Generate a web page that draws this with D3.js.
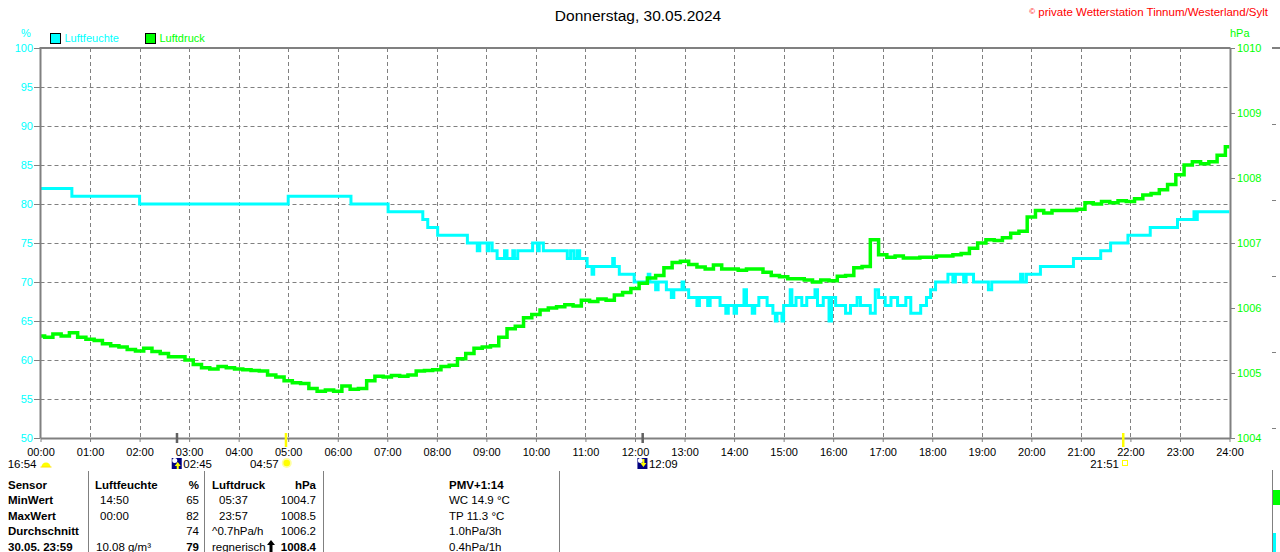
<!DOCTYPE html>
<html lang="de">
<head>
<meta charset="UTF-8">
<title>Luftfeuchte / Luftdruck 30.05.2024</title>
<script src="https://d3js.org/d3.v7.min.js"></script>
<style>
  body { margin: 0; background: #fff; }
  svg { display: block; font-family: "Liberation Sans", Arial, sans-serif; }
</style>
</head>
<body>
<div id="chart"></div>
<script>
// ---- data ----
const title = "Donnerstag, 30.05.2024";
const credit = "private Wetterstation Tinnum/Westerland/Sylt";
const hourLabels = ["00:00","01:00","02:00","03:00","04:00","05:00","06:00","07:00","08:00",
  "09:00","10:00","11:00","12:00","13:00","14:00","15:00","16:00","17:00","18:00","19:00",
  "20:00","21:00","22:00","23:00","24:00"];
const humidityTicks = [50, 55, 60, 65, 70, 75, 80, 85, 90, 95, 100];
const pressureTicks = [1004, 1005, 1006, 1007, 1008, 1009, 1010];

// Luftfeuchte: change points (time, %), drawn as steps
const humidity = [
  ["00:00",82],["00:38",81],["02:00",80],["05:00",81],["06:16",80],["07:01",79],["07:43",78],
  ["07:49",77],["08:01",76],["08:37",75],["08:49",74],["08:52",75],["09:01",74],["09:03",75],
  ["09:07",74],["09:13",73],["09:22",74],["09:25",73],["09:32",74],["09:34",73],["09:38",74],
  ["09:56",75],["10:02",74],["10:04",75],["10:09",74],["10:38",73],["10:42",74],["10:46",73],
  ["10:50",74],["10:53",73],["11:02",72],["11:08",71],["11:10",72],["11:33",73],["11:35",72],
  ["11:41",71],["11:59",70],["12:16",71],["12:18",70],["12:25",69],["12:28",70],["12:38",69],
  ["12:44",68],["12:47",69],["12:57",70],["12:59",69],["13:05",68],["13:15",67],["13:18",68],
  ["13:28",67],["13:31",68],["13:43",67],["13:50",66],["13:53",67],["14:00",66],["14:03",67],
  ["14:12",69],["14:15",67],["14:22",66],["14:25",67],["14:30",68],["14:40",67],["14:47",66],
  ["14:50",65],["14:52",66],["14:58",65],["15:00",67],["15:08",69],["15:10",67],["15:15",68],
  ["15:22",67],["15:28",68],["15:38",69],["15:41",67],["15:48",68],["15:55",65],["15:58",68],
  ["16:03",67],["16:15",66],["16:21",67],["16:29",68],["16:33",67],["16:45",66],["16:51",69],
  ["16:55",68],["17:03",67],["17:10",68],["17:18",67],["17:28",68],["17:34",66],["17:46",67],
  ["17:53",68],["17:58",69],["18:04",70],["18:19",71],["18:25",70],["18:28",71],["18:38",70],
  ["18:41",71],["18:50",70],["19:08",69],["19:12",70],["19:47",71],["19:50",70],["19:54",71],
  ["20:11",72],["20:51",73],["21:24",74],["21:36",75],["21:57",76],["22:24",77],["22:57",78],
  ["23:17",79],["23:19",78],["23:21",79],["24:00",79]
];

// Luftdruck in hPa, one reading every 10 minutes from 00:00 to 24:00
const pressureStepMin = 10;
const pressure = [
  1005.57, 1005.55, 1005.60, 1005.57, 1005.62, 1005.55,
  1005.52, 1005.50, 1005.45, 1005.42, 1005.40, 1005.36,
  1005.34, 1005.38, 1005.33, 1005.30, 1005.25, 1005.25,
  1005.20, 1005.13, 1005.08, 1005.06, 1005.10, 1005.08,
  1005.06, 1005.05, 1005.04, 1005.03, 1004.97, 1004.94,
  1004.88, 1004.85, 1004.84, 1004.76, 1004.72, 1004.74,
  1004.72, 1004.80, 1004.75, 1004.76, 1004.88, 1004.95,
  1004.94, 1004.96, 1004.95, 1004.97, 1005.03, 1005.04,
  1005.05, 1005.10, 1005.12, 1005.22, 1005.30, 1005.38,
  1005.40, 1005.42, 1005.55, 1005.68, 1005.72, 1005.85,
  1005.90, 1005.97, 1006.00, 1006.02, 1006.05, 1006.03,
  1006.12, 1006.10, 1006.14, 1006.12, 1006.20, 1006.24,
  1006.30, 1006.38, 1006.46, 1006.50, 1006.62, 1006.70,
  1006.72, 1006.67, 1006.63, 1006.60, 1006.66, 1006.60,
  1006.60, 1006.58, 1006.60, 1006.60, 1006.55, 1006.50,
  1006.48, 1006.45, 1006.45, 1006.43, 1006.40, 1006.43,
  1006.42, 1006.49, 1006.50, 1006.62, 1006.64, 1007.05,
  1006.82, 1006.78, 1006.80, 1006.77, 1006.77, 1006.78,
  1006.78, 1006.80, 1006.80, 1006.82, 1006.84, 1006.92,
  1007.00, 1007.05, 1007.04, 1007.08, 1007.15, 1007.18,
  1007.40, 1007.50, 1007.46, 1007.50, 1007.50, 1007.50,
  1007.52, 1007.62, 1007.60, 1007.64, 1007.62, 1007.65,
  1007.64, 1007.68, 1007.74, 1007.76, 1007.82, 1007.90,
  1008.05, 1008.20, 1008.25, 1008.22, 1008.25, 1008.35,
  1008.48
];

// sun / moon events under the time axis
const astroEvents = [
  { label: "16:54", at: "00:00", icon: "halfsun", marker: null,      side: "left" },
  { label: "02:45", at: "02:45", icon: "moonup",  marker: "#606060", side: "right" },
  { label: "04:57", at: "04:57", icon: "sun",     marker: "#ffff00", side: "left" },
  { label: "12:09", at: "12:09", icon: "moondown",marker: "#606060", side: "right" },
  { label: "21:51", at: "21:51", icon: "square",  marker: "#ffff00", side: "left" }
];

// summary table
const tableHead = ["Sensor", "Luftfeuchte", "%", "Luftdruck", "hPa", "PMV+1:14"];
const tableRows = [
  ["MinWert", "14:50", "65", "05:37", "1004.7", "WC 14.9 °C"],
  ["MaxWert", "00:00", "82", "23:57", "1008.5", "TP 11.3 °C"],
  ["Durchschnitt", "", "74", "^0.7hPa/h", "1006.2", "1.0hPa/3h"],
  ["30.05. 23:59", "10.08 g/m³", "79", "regnerisch", "1008.4", "0.4hPa/1h"]
];

// ---- layout ----
const W = 1280, H = 552;
const plotL = 40.5, plotR = 1229.5, plotT = 48, plotB = 438;
const humColor = "#00ffff", presColor = "#00ff00", frameColor = "#808080";

const toMin = s => { const [h, m] = s.split(":").map(Number); return h * 60 + m; };

const x = d3.scaleLinear().domain([0, 24 * 60]).range([plotL, plotR]);
const yH = d3.scaleLinear().domain([50, 100]).range([plotB, plotT]);
const yP = d3.scaleLinear().domain([1004, 1010]).range([plotB, plotT]);

const svg = d3.select("#chart").append("svg")
  .attr("width", W).attr("height", H);

// title + credit
svg.append("text")
  .attr("x", 638).attr("y", 21)
  .attr("text-anchor", "middle")
  .style("font-size", "15.5px")
  .text(title);

const cr = svg.append("text")
  .attr("x", 1268).attr("y", 16)
  .attr("text-anchor", "end")
  .attr("fill", "#ff0000")
  .style("font-size", "11.5px");
cr.append("tspan").style("font-size", "8px").attr("dy", -2).text("©");
cr.append("tspan").attr("dy", 2).text(" " + credit);

// units + legend
svg.append("text").attr("x", 26).attr("y", 37).attr("text-anchor", "middle")
  .attr("fill", humColor).style("font-size", "11px").text("%");
svg.append("text").attr("x", 1230).attr("y", 37)
  .attr("fill", presColor).style("font-size", "11px").text("hPa");

const legendItems = [
  { name: "Luftfeuchte", color: humColor, x: 50 },
  { name: "Luftdruck", color: presColor, x: 145 }
];
const lg = svg.selectAll(".legend").data(legendItems).enter().append("g")
  .attr("class", "legend")
  .attr("transform", d => `translate(${d.x},33)`);
lg.append("rect").attr("x", 0.5).attr("y", 0.5).attr("width", 10).attr("height", 10)
  .attr("fill", d => d.color).attr("stroke", "#000");
lg.append("text").attr("x", 14.5).attr("y", 9)
  .attr("fill", d => d.color).style("font-size", "11px").text(d => d.name);

// grid
const grid = svg.append("g").attr("stroke", frameColor).attr("stroke-width", 1)
  .attr("stroke-dasharray", "4,3");
grid.selectAll(".hgrid").data(humidityTicks.filter(v => v > 50 && v < 100))
  .enter().append("line")
  .attr("x1", plotL).attr("x2", plotR)
  .attr("y1", d => Math.round(yH(d)) + 0.5).attr("y2", d => Math.round(yH(d)) + 0.5);
grid.selectAll(".vgrid").data(d3.range(1, 24))
  .enter().append("line")
  .attr("x1", d => Math.round(x(d * 60)) + 0.5).attr("x2", d => Math.round(x(d * 60)) + 0.5)
  .attr("y1", plotT).attr("y2", plotB);

// data lines
svg.append("clipPath").attr("id", "plot")
  .append("rect").attr("x", plotL).attr("y", plotT - 2)
  .attr("width", plotR - plotL).attr("height", plotB - plotT + 4);

const humLine = d3.line()
  .curve(d3.curveStepAfter)
  .x(d => x(toMin(d[0])))
  .y(d => yH(d[1]));

const presLine = d3.line()
  .curve(d3.curveStep)
  .x((d, i) => x(i * pressureStepMin))
  .y(d => yP(d));

svg.append("path")
  .datum(humidity)
  .attr("clip-path", "url(#plot)")
  .attr("fill", "none")
  .attr("stroke", humColor)
  .attr("stroke-width", 3)
  .attr("d", humLine);

svg.append("path")
  .datum(pressure)
  .attr("clip-path", "url(#plot)")
  .attr("fill", "none")
  .attr("stroke", presColor)
  .attr("stroke-width", 3.5)
  .attr("d", presLine);

// axes
function styleAxis(g, color) {
  g.select(".domain").attr("stroke", frameColor).attr("stroke-width", 2);
  g.selectAll(".tick line").attr("stroke", frameColor);
  g.selectAll(".tick text").attr("fill", color).style("font-size", "11px")
    .style("font-family", "'Liberation Sans', Arial, sans-serif");
}

svg.append("line").attr("x1", plotL - 1).attr("x2", plotR + 1)
  .attr("y1", plotT).attr("y2", plotT)
  .attr("stroke", frameColor).attr("stroke-width", 2);

svg.append("g")
  .attr("transform", `translate(${plotL - 0.5},0)`)
  .call(d3.axisLeft(yH).tickValues(humidityTicks).tickFormat(d3.format("d"))
    .tickSize(6).tickSizeOuter(0).tickPadding(1))
  .call(g => styleAxis(g, humColor));

svg.append("g")
  .attr("transform", `translate(${plotR + 0.5},0)`)
  .call(d3.axisRight(yP).tickValues(pressureTicks).tickFormat(d3.format("d"))
    .tickSize(5).tickSizeOuter(0).tickPadding(2))
  .call(g => styleAxis(g, presColor));

svg.append("g")
  .attr("transform", `translate(0,${plotB})`)
  .call(d3.axisBottom(x).tickValues(d3.range(0, 25).map(h => h * 60))
    .tickFormat((d, i) => hourLabels[i]).tickSize(4).tickSizeOuter(0).tickPadding(6))
  .call(g => styleAxis(g, "#000"));

// sun / moon markers
const astro = svg.append("g");
astroEvents.forEach(ev => {
  const mx = x(toMin(ev.at));
  if (ev.marker) {
    astro.append("rect")
      .attr("x", mx - 1).attr("y", 433)
      .attr("width", 2.5).attr("height", ev.marker === "#ffff00" ? 14 : 10)
      .attr("fill", ev.marker);
  }
  const ic = astro.append("g").attr("transform", `translate(${mx},463)`);
  if (ev.icon === "halfsun") {
    ic.append("path").attr("d", "M1,4 A4.5,4.5 0 0 1 10,4 Z").attr("fill", "#ffff00");
    ic.append("path").attr("d", "M0,4 L11,4").attr("stroke", "#ffe000").attr("stroke-width", 1);
  } else if (ev.icon === "sun") {
    ic.append("circle").attr("cx", 1).attr("cy", 0).attr("r", 5).attr("fill", "#ffffa0");
    ic.append("circle").attr("cx", 1).attr("cy", 0).attr("r", 3.3).attr("fill", "#ffff00");
  } else if (ev.icon === "moonup" || ev.icon === "moondown") {
    ic.append("rect").attr("x", -5).attr("y", -5).attr("width", 10).attr("height", 11)
      .attr("fill", "#000080");
    ic.append("circle").attr("cx", -2).attr("cy", -2.5).attr("r", 2.5).attr("fill", "#fff");
    const arrow = ev.icon === "moonup"
      ? "M1,-1 L4,3 L2,3 L2,6 L0,6 L0,3 L-2,3 Z"
      : "M1,4 L4,0 L2,0 L2,-4 L0,-4 L0,0 L-2,0 Z";
    ic.append("path").attr("d", arrow).attr("fill", "#ffff00");
  } else if (ev.icon === "square") {
    ic.append("rect").attr("x", -0.5).attr("y", -2.5).attr("width", 5).attr("height", 5)
      .attr("fill", "none").attr("stroke", "#ffff00").attr("stroke-width", 1);
  }
  astro.append("text")
    .attr("x", ev.side === "left" ? mx - (ev.icon === "sun" ? 7 : 4) : mx + 6.5)
    .attr("y", 468)
    .attr("text-anchor", ev.side === "left" ? "end" : "start")
    .style("font-size", "11.5px")
    .text(ev.label);
});

// summary table
const table = svg.append("g");
[88.5, 204.5, 323.5, 559.5].forEach(sx => {
  table.append("line").attr("x1", sx).attr("x2", sx).attr("y1", 471).attr("y2", H)
    .attr("stroke", frameColor);
});

const colX = [8, 98, 199, 217, 316, 449];
const headX = [8, 95, 199, 212, 316, 449];
const colAnchor = ["start", "start", "end", "start", "end", "start"];
const isTime = s => /^\d\d:\d\d$/.test(s);

function cell(txt, cx, y, anchor, bold) {
  table.append("text")
    .attr("x", cx).attr("y", y)
    .attr("text-anchor", anchor)
    .style("font-size", "11.5px")
    .style("font-weight", bold ? "bold" : "normal")
    .text(txt);
}

tableHead.forEach((t, c) => cell(t, headX[c], 488.5, colAnchor[c], true));
tableRows.forEach((row, r) => {
  const y = 504 + r * 15.5;
  const last = r === tableRows.length - 1;
  row.forEach((t, c) => {
    const bold = c === 0 || (last && (c === 2 || c === 4));
    let cx = isTime(t) ? colX[c] + 2 : (c === 1 || c === 3 ? headX[c] + 1 : colX[c]);
    if (c === 3 && !isTime(t)) cx = headX[c];
    cell(t, cx, y, colAnchor[c], bold);
  });
});
// rising-pressure arrow before the current value
table.append("path")
  .attr("d", "M271,540 L275,545 L272.5,545 L272.5,552 L269.5,552 L269.5,545 L267,545 Z")
  .attr("fill", "#000");

// edge of the neighbouring chart at the right border
const edge = svg.append("g");
edge.append("line").attr("x1", 1272).attr("x2", W).attr("y1", plotT).attr("y2", plotT)
  .attr("stroke", frameColor).attr("stroke-width", 2);
[124, 200, 276, 352, 428].forEach(gy => {
  edge.append("line").attr("x1", 1272).attr("x2", 1276).attr("y1", gy + 0.5).attr("y2", gy + 0.5)
    .attr("stroke", frameColor);
});
edge.append("line").attr("x1", 1272.5).attr("x2", 1272.5).attr("y1", 470).attr("y2", H)
  .attr("stroke", frameColor);
edge.append("rect").attr("x", 1273).attr("y", 490).attr("width", 7).attr("height", 15)
  .attr("fill", presColor);
edge.append("rect").attr("x", 1273).attr("y", 533).attr("width", 3).attr("height", 19)
  .attr("fill", humColor);
</script>
</body>
</html>
